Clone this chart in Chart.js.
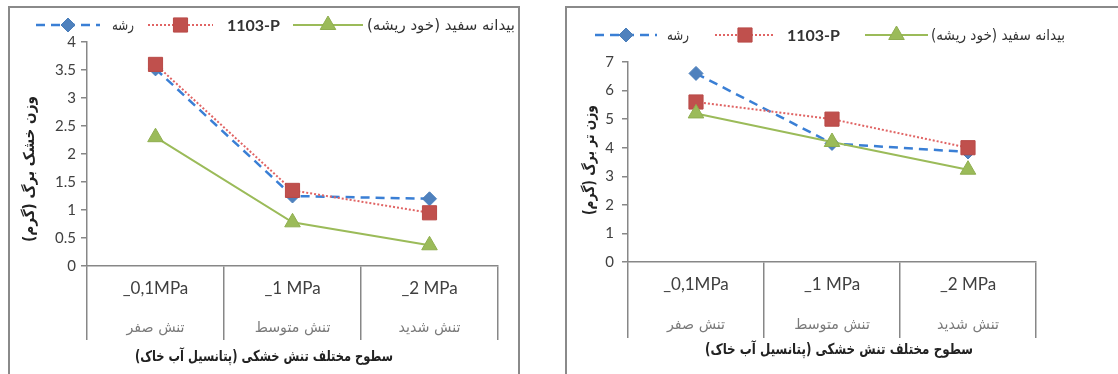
<!DOCTYPE html>
<html><head><meta charset="utf-8">
<script src="https://cdn.jsdelivr.net/npm/chart.js@4.4.0/dist/chart.umd.min.js"></script>
<style>
html,body{margin:0;padding:0;background:#fff;width:1118px;height:374px;overflow:hidden;}
.box{position:absolute;border:2px solid #8a8a8a;background:#fff;}
#b1{left:8px;top:6px;width:508px;height:400px;}
#b2{left:565px;top:6px;width:600px;height:400px;}
.wrap{position:absolute;left:0;top:0;height:366px;}
</style></head><body>
<div class="box" id="b1"><div class="wrap" style="width:508px"><canvas id="c1"></canvas></div></div>
<div class="box" id="b2"><div class="wrap" style="width:551px"><canvas id="c2"></canvas></div></div>
<script>
// ---- data ----
const categories = ['_0,1MPa', '_1 MPa', '_2 MPa'];
const categoriesFa = ['تنش صفر', 'تنش متوسط', 'تنش شدید'];
const seriesNames = ['رشه', '1103-P', 'بیدانه سفید (خود ریشه)'];
const dryRashe = [3.52, 1.25, 1.2];
const dryP1103 = [3.6, 1.35, 0.95];
const dryBidaneh = [2.3, 0.78, 0.37];
const freshRashe = [6.6, 4.15, 3.85];
const freshP1103 = [5.6, 5.0, 4.0];
const freshBidaneh = [5.2, 4.2, 3.23];
const dryTicks = [0, 4, 0.5];
const freshTicks = [0, 7, 1];
const dryTitle = 'وزن خشک برگ (گرم)';
const freshTitle = 'وزن تر برگ (گرم)';
const xTitle = 'سطوح مختلف تنش خشکی (پتانسیل آب خاک)';

const LAT = 'Lato, "DejaVu Sans", sans-serif';
const FA = '"DejaVu Sans", sans-serif';
const AX = '#878787';
const styles = [
  {color:'#3a7fd5', width:2.5, dash:[9,6], style:'rectRot', r:7, bg:'#4F81BD', bc:'#4a7ebb', order:3},
  {color:'#e06464', width:2, dash:[2,2], style:'rect', r:10, bg:'#C0504D', bc:'#b94a47', order:2},
  {color:'#9BBB59', width:2, dash:[], style:'triangle', r:9, bg:'#9BBB59', bc:'#8fae50', order:1}
];

function drawMarker(ctx, s, x, y){
  ctx.save();
  ctx.fillStyle = s.bg; ctx.strokeStyle = s.bc; ctx.lineWidth = 1; ctx.setLineDash([]);
  Chart.helpers.drawPoint(ctx, {pointStyle:s.style, radius:s.r, rotation:0, borderWidth:1}, x, y);
  ctx.restore();
}

// draw text centred at (x,y), squeezed horizontally to the given width
function fitText(ctx, text, x, y, w, rot){
  ctx.save();
  ctx.translate(x, y);
  if (rot) ctx.rotate(rot);
  const m = ctx.measureText(text).width;
  ctx.scale(w / m, 1);
  ctx.textAlign = 'center'; ctx.textBaseline = 'middle';
  ctx.fillText(text, 0, 0);
  ctx.restore();
}

const deco = {
  id:'deco',
  afterDraw(chart){
    const o = chart.options.plugins.deco;
    const ctx = chart.ctx;
    ctx.save();
    // legend
    o.legend.forEach((it, i) => {
      const s = styles[i];
      ctx.save();
      ctx.strokeStyle = s.color; ctx.lineWidth = s.width; ctx.setLineDash(s.dash);
      ctx.beginPath(); ctx.moveTo(it[0], o.legendY); ctx.lineTo(it[1], o.legendY); ctx.stroke();
      ctx.restore();
      drawMarker(ctx, s, (it[0]+it[1])/2, o.legendY);
      ctx.save();
      ctx.fillStyle = '#333';
      if (i === 1) {
        ctx.font = 'bold 16px ' + LAT; ctx.direction = 'ltr';
        ctx.textBaseline = 'middle'; ctx.textAlign = 'left';
        ctx.fillText(seriesNames[i], it[2], o.legendY + 1);
      } else {
        ctx.font = '15px ' + FA; ctx.direction = 'rtl';
        fitText(ctx, seriesNames[i], it[2] + it[3] / 2, o.legendY + 1, it[3]);
      }
      ctx.restore();
    });
    // persian category line
    const xs = chart.scales.x;
    ctx.save();
    ctx.fillStyle = '#7a7a7a'; ctx.font = '15px ' + FA; ctx.direction = 'rtl';
    categoriesFa.forEach((t, i) => {
      const w = ctx.measureText(t).width * 0.95;
      fitText(ctx, t, xs.getPixelForTick(i), o.faY, w);
    });
    ctx.restore();
    // x title
    ctx.save();
    ctx.fillStyle = '#222'; ctx.font = 'bold 15px ' + FA; ctx.direction = 'rtl';
    fitText(ctx, xTitle, o.xTitle[0], o.xTitle[1], o.xTitle[2]);
    ctx.restore();
    // y title
    ctx.save();
    ctx.fillStyle = '#222'; ctx.font = 'bold 15px ' + FA; ctx.direction = 'rtl';
    fitText(ctx, o.yTitle[2], o.yTitle[0], o.yTitle[1], o.yTitle[3], -Math.PI/2);
    ctx.restore();
    ctx.restore();
  }
};

function makeChart(id, values, tk, cfg){
  const datasets = values.map((v, i) => {
    const s = styles[i];
    return {label: seriesNames[i], data: v, borderColor: s.color, borderWidth: s.width, borderDash: s.dash,
      pointStyle: s.style, pointRadius: s.r, pointBackgroundColor: s.bg, pointBorderColor: s.bc,
      pointBorderWidth: 1, fill: false, tension: 0, order: s.order};
  });
  return new Chart(document.getElementById(id), {
    type:'line',
    data:{labels: categories, datasets},
    options:{
      responsive:true, maintainAspectRatio:false, animation:false, events:[],
      layout:{padding:{top:cfg.top, right:cfg.right, left:0, bottom:0}},
      plugins:{legend:{display:false}, tooltip:{enabled:false}, deco: cfg.deco},
      scales:{
        x:{
          offset:true,
          grid:{offset:true, drawOnChartArea:false, drawTicks:true, tickLength:cfg.tickLen, color:AX, lineWidth:1.5},
          border:{display:true, color:AX, width:1.5},
          ticks:{color:'#404040', font:{family:LAT, size:17}, padding:cfg.tickPad, maxRotation:0, autoSkip:false},
          afterFit: s => { s.height = cfg.xh; }
        },
        y:{
          min:tk[0], max:tk[1],
          grid:{drawOnChartArea:false, tickLength:6, color:AX, lineWidth:1.5},
          border:{display:true, color:AX, width:1.5},
          ticks:{stepSize:tk[2], color:'#404040', font:{family:LAT, size:15}, padding:cfg.ypad,
                 callback: v => String(Number(v.toFixed(2)))},
          afterFit: s => { s.width = cfg.yw; }
        }
      }
    },
    plugins:[deco]
  });
}

makeChart('c1', [dryRashe, dryP1103, dryBidaneh], dryTicks, {
  top:34, right:20, xh:108, yw:77, tickLen:74, tickPad:-62, ypad:5,
  deco:{legendY:17, legend:[[26,90,102,22],[138,203,217],[283,353,357,148]], faY:320,
        xTitle:[254,349,258], yTitle:[20,161,dryTitle,146]}
});
makeChart('c2', [freshRashe, freshP1103, freshBidaneh], freshTicks, {
  top:54, right:82, xh:112, yw:61, tickLen:76, tickPad:-64, ypad:8,
  deco:{legendY:27, legend:[[28,90,100,22],[148,208,220],[298,361,364,134]], faY:317,
        xTitle:[272,342,268], yTitle:[23,152,freshTitle,110]}
});
</script>
</body></html>
